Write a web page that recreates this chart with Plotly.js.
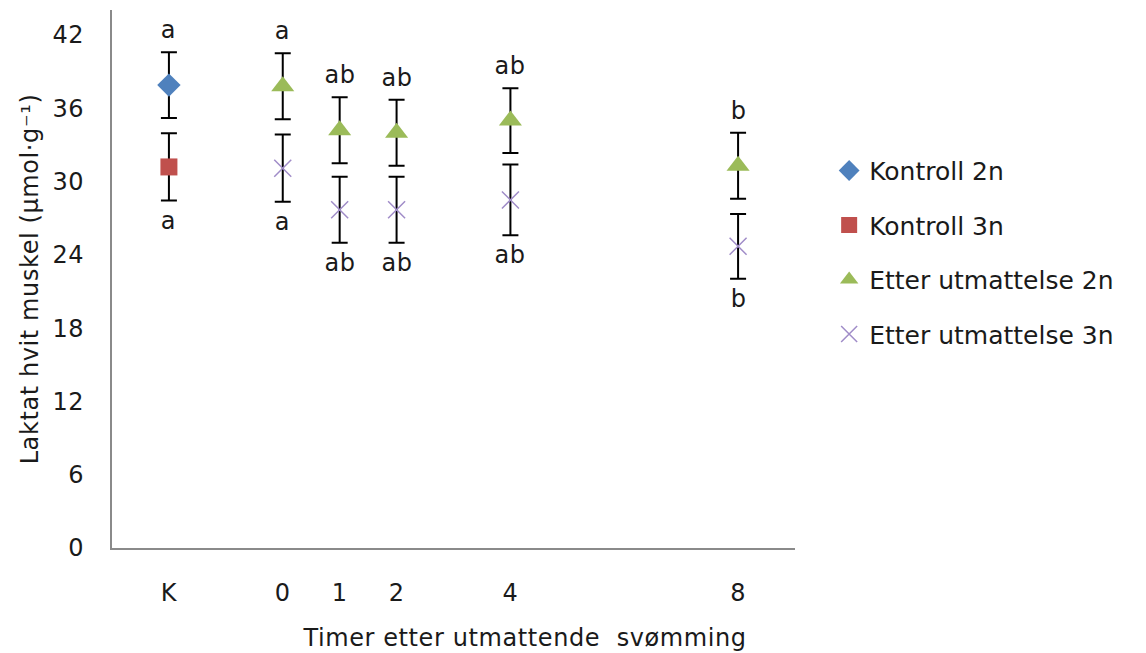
<!DOCTYPE html>
<html>
<head>
<meta charset="utf-8">
<script src="https://cdn.plot.ly/plotly-3.0.1.min.js"></script>
<style>html,body{margin:0;padding:0;background:#fff;}#chart{width:1146px;height:653px;}
#chart text{letter-spacing:0.6px;}
#chart .legend text{letter-spacing:0;}</style>
</head>
<body>
<div id="chart"></div>
<script>
// x positions on the time axis (K = control, placed before 0)
const xTickVals = [-2, 0, 1, 2, 4, 8];
const xTickText = ['K', '0', '1', '2', '4', '8'];

const kontrollX = [-2];
const kontroll2n = [37.9];
const kontroll2nErr = [2.7];
const kontroll3n = [31.2];
const kontroll3nErr = [2.75];

const etterX = [0, 1, 2, 4, 8];
const etter2n = [37.8, 34.2, 34.0, 35.0, 31.3];
const etter2nErr = [2.7, 2.7, 2.7, 2.65, 2.7];
const etter3n = [31.1, 27.7, 27.7, 28.5, 24.7];
const etter3nErr = [2.75, 2.7, 2.7, 2.9, 2.65];

const letters2nK = ['a'];
const letters3nK = ['a'];
const letters2n = ['a', 'ab', 'ab', 'ab', 'b'];
const letters3n = ['a', 'ab', 'ab', 'ab', 'b'];

const FONT = 'DejaVu Sans, Verdana, sans-serif';
const FS = 24;
const TXT = '#1a1a1a';

function errStyle(arr) {
  return {type: 'data', array: arr, visible: true, color: '#000', thickness: 2, width: 8};
}

const traces = [
  {x: kontrollX, y: kontroll2n, name: 'Kontroll 2n', type: 'scatter', mode: 'markers',
   marker: {symbol: 'diamond', size: 18, color: '#4f81bd'}, error_y: errStyle(kontroll2nErr)},
  {x: kontrollX, y: kontroll3n, name: 'Kontroll 3n', type: 'scatter', mode: 'markers',
   marker: {symbol: 'square', size: 17, color: '#c0504d'}, error_y: errStyle(kontroll3nErr)},
  {x: etterX, y: etter2n, name: 'Etter utmattelse 2n', type: 'scatter', mode: 'markers',
   marker: {symbol: 'triangle-up', size: 20, color: '#9bbb59'}, error_y: errStyle(etter2nErr)},
  {x: etterX, y: etter3n, name: 'Etter utmattelse 3n', type: 'scatter', mode: 'markers',
   marker: {symbol: 'x-thin', size: 17, color: '#a08cc8', line: {color: '#a08cc8', width: 1.5}},
   error_y: errStyle(etter3nErr)}
];

const annotations = [];
function addLetters(xs, ys, errs, letters, above) {
  for (let i = 0; i < xs.length; i++) {
    annotations.push({
      x: xs[i], y: above ? ys[i] + errs[i] : ys[i] - errs[i], xref: 'x', yref: 'y',
      text: letters[i], showarrow: false,
      yanchor: above ? 'bottom' : 'top', yshift: above ? 6 : -4,
      font: {family: FONT, size: FS, color: TXT}
    });
  }
}
addLetters(kontrollX, kontroll2n, kontroll2nErr, letters2nK, true);
addLetters(kontrollX, kontroll3n, kontroll3nErr, letters3nK, false);
addLetters(etterX, etter2n, etter2nErr, letters2n, true);
addLetters(etterX, etter3n, etter3nErr, letters3n, false);

annotations.push({
  text: 'Timer etter utmattende  svømming', xref: 'paper', yref: 'paper',
  x: (524 - 112) / 683, y: -0.168, xanchor: 'center', yanchor: 'middle', showarrow: false,
  font: {family: FONT, size: FS, color: TXT}
});

const layout = {
  width: 1146, height: 653,
  margin: {l: 112, r: 351, t: 10, b: 105},
  paper_bgcolor: '#fff', plot_bgcolor: '#fff',
  font: {family: FONT, size: FS, color: TXT},
  showlegend: true,
  legend: {x: 1.05, y: 0.744, xanchor: 'left', yanchor: 'top',
           font: {family: FONT, size: 25, color: TXT}, tracegroupgap: 19,
           bgcolor: 'rgba(0,0,0,0)'},
  xaxis: {range: [-3, 9], tickvals: xTickVals, ticktext: xTickText,
          showgrid: false, zeroline: false, showline: true, linecolor: '#8a8a8a', linewidth: 2,
          ticks: '', ticklabelstandoff: 22, tickfont: {family: FONT, size: FS, color: TXT},
          fixedrange: true},
  yaxis: {range: [0, 44.05], tickvals: [0, 6, 12, 18, 24, 30, 36, 42],
          showgrid: false, zeroline: false, showline: true, linecolor: '#8a8a8a', linewidth: 2,
          ticks: '', ticklabelstandoff: 21, tickfont: {family: FONT, size: FS, color: TXT},
          title: {text: 'Laktat hvit muskel (µmol·g⁻¹)', font: {family: FONT, size: FS, color: TXT}, standoff: 8},
          fixedrange: true},
  annotations: annotations
};

// each trace in its own legend group so the gap between items can be set
traces.forEach((t, i) => { t.legendgroup = 'g' + i; });

Plotly.newPlot('chart', traces, layout, {displayModeBar: false, staticPlot: true});
</script>
</body>
</html>
